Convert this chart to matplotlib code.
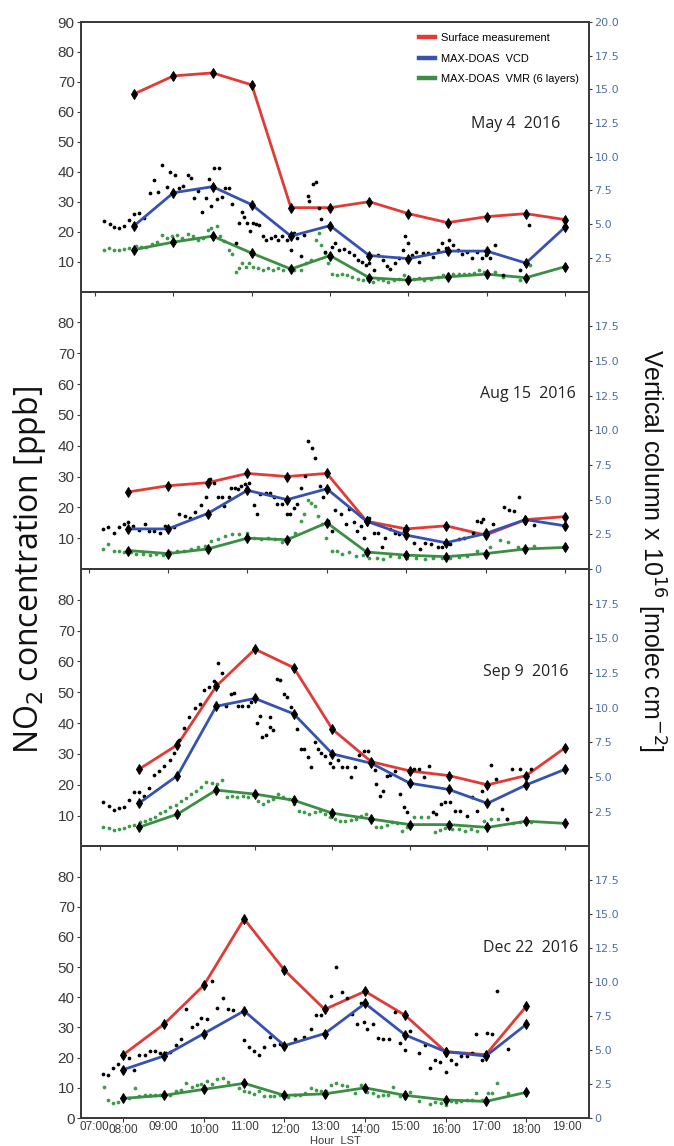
import matplotlib
matplotlib.use("Agg")
import matplotlib.pyplot as plt
from matplotlib.lines import Line2D
from matplotlib.ticker import FixedLocator, FixedFormatter
from matplotlib.transforms import ScaledTranslation

RED = "#e23a35"
BLUE = "#3552b0"
GREEN = "#3b8f44"
GREEN_DOT = "#3f9a4b"
RIGHT_TICK = "#4f6f9f"
SPINE = "#3a3a3a"

NARROW = ["Liberation Sans Narrow", "Liberation Sans", "DejaVu Sans"]

# ---------------- hourly means ----------------
HOURS_LONG = [8, 9, 10, 11, 12, 13, 14, 15, 16, 17, 18, 19]
HOURS_SHORT = [8, 9, 10, 11, 12, 13, 14, 15, 16, 17, 18]

# May 4 2016
MAY_SURFACE = [66, 72, 73, 69, 28, 28, 30, 26, 23, 25, 26, 24]
MAY_VCD = [4.89, 7.33, 7.78, 6.44, 4.11, 4.89, 2.67, 2.44, 3.0, 3.0, 2.11, 4.78]
MAY_VMR = [14, 16.5, 18.5, 12.8, 7.5, 12, 4.6, 3.8, 4.9, 5.8, 4.6, 8.3]

# Aug 15 2016
AUG_SURFACE = [25, 27, 28, 31, 30, 31, 15.5, 13, 14, 11, 16, 17]
AUG_VCD = [2.89, 2.89, 4.0, 5.67, 5.0, 5.78, 3.44, 2.44, 1.89, 2.56, 3.56, 3.11]
AUG_VMR = [6, 5, 6.5, 10, 9.5, 15, 5.5, 4.5, 4, 5, 6.5, 7]

# Sep 9 2016
SEP_SURFACE = [25, 33, 52, 64, 58, 38, 27.5, 24.5, 23, 20, 23, 32]
SEP_VCD = [3.11, 5.11, 10.11, 10.67, 9.56, 6.67, 6.0, 4.56, 4.11, 3.11, 4.44, 5.56]
SEP_VMR = [6.2, 10.5, 18.3, 17, 15, 10.8, 8.9, 7.1, 7.1, 6.2, 8.2, 7.5]

# Dec 22 2016
DEC_SURFACE = [21, 31, 44, 66, 49, 36, 42, 34, 22, 21, 37]
DEC_VCD = [3.56, 4.56, 6.22, 7.89, 5.33, 6.22, 8.44, 6.11, 4.89, 4.56, 6.89]
DEC_VMR = [6.5, 7.5, 9.5, 11.5, 7.5, 8, 10, 7.5, 6, 5.5, 8.5]

# ---------------- individual MAX-DOAS scans ----------------
MAY_SCAN_HOUR = [7.23, 7.37, 7.49, 7.61, 7.74, 7.87, 8.00, 8.13, 8.26, 8.41, 8.50, 8.60, 8.70, 8.83,
                 8.92, 9.05, 9.14, 9.24, 9.36, 9.45, 9.53, 9.62, 9.73, 9.84, 9.90, 9.97, 10.04, 10.10,
                 10.16, 10.23, 10.32, 10.41, 10.50, 10.60, 10.67, 10.74, 10.80, 10.89, 10.96, 11.02,
                 11.11, 11.18, 11.29, 11.37, 11.48, 11.59, 11.68, 11.77, 11.90, 11.99, 12.00, 12.08,
                 12.16, 12.25, 12.34, 12.43, 12.47, 12.56, 12.65, 12.71, 12.78, 12.86, 13.04, 13.13,
                 13.23, 13.35, 13.48, 13.61, 13.70, 13.81, 13.92, 14.00, 14.11, 14.22, 14.35, 14.46,
                 14.54, 14.66, 14.75, 14.85, 14.92, 14.98, 15.10, 15.19, 15.27, 15.36, 15.49, 15.62,
                 15.76, 15.86, 15.95, 16.04, 16.15, 16.26, 16.37, 16.50, 16.63, 16.76, 16.88, 16.98,
                 17.07, 17.20, 17.42, 17.84, 18.08]
MAY_SCAN_VCD = [5.22, 5.02, 4.78, 4.71, 4.84, 5.31, 5.73, 5.80, 5.49, 7.29, 8.31, 7.42, 9.38, 7.73,
                8.87, 8.67, 7.69, 7.82, 8.62, 8.44, 6.91, 7.44, 5.93, 6.93, 8.38, 6.31, 9.18, 6.87,
                9.13, 6.98, 7.69, 7.69, 6.49, 3.60, 5.11, 5.87, 5.53, 5.11, 4.47, 5.11,
                4.98, 4.91, 4.09, 3.84, 3.98, 4.09, 3.84, 4.09, 3.84, 4.09, 3.09, 4.36,
                3.98, 2.67, 4.22, 7.11, 6.69, 8.00, 8.11, 6.16, 5.36, 2.96, 3.27, 3.60,
                3.09, 3.18, 2.96, 2.71, 2.33, 2.16, 1.96, 2.13, 1.58, 2.71, 2.33, 1.91,
                1.67, 2.09, 2.47, 3.09, 4.09, 3.60, 2.71, 2.96, 2.22, 2.89, 2.84, 2.53,
                3.09, 3.60, 3.22, 3.84, 3.47, 3.09, 2.80, 2.96, 2.47, 2.96, 2.47, 2.71,
                2.47, 3.47, 1.20, 1.58, 4.91]

AUG_SCAN_HOUR = [7.37, 7.50, 7.63, 7.76, 7.89, 8.00, 8.12, 8.26, 8.41, 8.52, 8.64, 8.80, 8.93, 9.14,
                 9.27, 9.42, 9.56, 9.68, 9.84, 9.96, 10.07, 10.15, 10.25, 10.35, 10.42, 10.53, 10.59,
                 10.68, 10.77, 10.85, 10.94, 11.04, 11.17, 11.24, 11.32, 11.46, 11.58, 11.67, 11.74,
                 11.87, 12.00, 12.08, 12.17, 12.26, 12.36, 12.45, 12.53, 12.62, 12.71, 12.82, 12.90,
                 13.02, 13.12, 13.21, 13.36, 13.47, 13.57, 13.68, 13.77, 13.86, 13.94, 14.07, 14.18,
                 14.29, 14.38, 14.46, 14.59, 14.72, 14.81, 14.94, 15.20, 15.35, 15.46, 15.63, 15.79,
                 15.91, 16.11, 16.33, 16.46, 16.68, 16.77, 16.87, 16.94, 17.18, 17.46, 17.59, 17.72,
                 17.85, 18.22]
AUG_SCAN_VCD = [2.87, 3.00, 2.62, 3.00, 3.27, 3.36, 3.11, 2.80, 3.27, 2.76, 2.76, 2.62, 3.11, 3.00,
                3.96, 3.82, 3.71, 4.11, 4.60, 5.22, 6.51, 6.22, 5.22, 5.22, 4.56, 5.22, 5.87,
                5.87, 5.76, 5.98, 6.11, 6.22, 4.62, 4.00, 5.38, 5.51, 5.51, 5.16, 4.67,
                4.67, 3.96, 3.96, 4.42, 4.67, 5.82, 6.71, 9.22, 8.69, 8.02, 5.98, 5.16,
                3.47, 2.76, 4.27, 3.96, 3.27, 4.31, 3.36, 2.76, 3.11, 2.27, 3.71, 2.62,
                2.62, 1.56, 2.27, 2.87, 2.62, 2.51, 2.76, 1.91, 1.42, 1.91, 1.80, 1.56,
                1.56, 1.80, 2.16, 2.27, 2.62, 3.47, 3.36, 3.58, 3.22, 4.47, 4.24, 4.18,
                5.22, 3.16]

SEP_SCAN_HOUR = [7.09, 7.22, 7.35, 7.49, 7.62, 7.75, 7.88, 8.00, 8.13, 8.27, 8.39, 8.53, 8.66, 8.80,
                 8.90, 9.04, 9.17, 9.30, 9.44, 9.57, 9.68, 9.81, 9.94, 10.04, 10.14, 10.25, 10.39,
                 10.45, 10.57, 10.67, 10.81, 10.90, 11.05, 11.12, 11.19, 11.28, 11.38, 11.40, 11.47,
                 11.56, 11.65, 11.74, 11.83, 11.92, 12.09, 12.18, 12.27, 12.36, 12.45, 12.54, 12.62,
                 12.71, 12.80, 12.93, 13.02, 13.14, 13.24, 13.38, 13.49, 13.58, 13.69, 13.82, 13.91,
                 13.99, 14.09, 14.13, 14.22, 14.31, 14.41, 14.48, 14.62, 14.75, 14.84, 14.92, 15.00,
                 15.10, 15.24, 15.37, 15.50, 15.59, 15.68, 15.81, 15.90, 16.03, 16.17, 16.30, 16.48,
                 16.61, 16.74, 16.86, 17.10, 17.23, 17.37, 17.50, 17.63, 17.85, 18.12]
SEP_SCAN_VCD = [3.18, 2.93, 2.62, 2.78, 2.82, 3.36, 3.91, 3.91, 3.67, 4.22, 5.18, 5.47, 5.82, 6.24,
                6.71, 7.64, 8.56, 9.36, 10.0, 10.29, 11.29, 11.53, 11.96, 13.22, 12.49, 10.09, 11.0,
                11.04, 10.09, 10.09, 10.09, 10.4, 8.89, 9.44, 7.91, 8.0, 8.64, 9.31, 8.42,
                12.09, 12.0, 11.0, 10.76, 10.04, 8.47, 7.02, 7.02, 6.42, 5.76, 7.51, 7.02,
                6.71, 6.49, 6.0, 5.71, 6.2, 5.71, 5.71, 4.98, 5.71, 6.56, 6.91, 6.91,
                6.2, 5.51, 4.51, 3.67, 4.02, 5.11, 5.18, 5.47, 3.78, 2.82, 2.47, 5.51,
                5.6, 5.6, 4.98, 5.82, 2.47, 2.33, 3.07, 3.18, 3.18, 2.58, 2.58, 2.22,
                3.6, 2.58, 3.98, 5.89, 4.87, 2.71, 1.98, 5.6, 5.6, 5.6]

DEC_SCAN_HOUR = [7.49, 7.62, 7.74, 7.87, 8.13, 8.26, 8.40, 8.54, 8.66, 8.79, 8.91, 9.07, 9.17, 9.31,
                 9.42, 9.56, 9.70, 9.82, 9.94, 10.07, 10.20, 10.33, 10.47, 10.60, 10.73, 10.99, 11.11,
                 11.24, 11.37, 11.50, 11.63, 11.75, 11.88, 12.00, 12.27, 12.48, 12.65, 12.78, 12.91,
                 13.16, 13.29, 13.42, 13.55, 13.67, 13.80, 13.89, 13.97, 14.06, 14.19, 14.31, 14.44,
                 14.60, 14.74, 14.87, 15.00, 15.11, 15.34, 15.48, 15.62, 15.74, 15.85, 16.00, 16.13,
                 16.25, 16.39, 16.53, 16.66, 16.76, 16.90, 17.03, 17.16, 17.27, 17.55]
DEC_SCAN_VCD = [3.27, 3.18, 3.67, 3.98, 4.40, 3.56, 4.67, 4.64, 4.96, 4.96, 4.76, 4.76, 4.89, 5.36,
                5.80, 8.02, 6.73, 6.93, 7.40, 7.29, 10.07, 8.07, 8.87, 8.02, 7.93, 5.78, 5.20,
                4.96, 4.64, 5.24, 5.96, 5.36, 5.42, 5.24, 5.84, 5.96, 6.56, 7.60, 7.60,
                8.98, 11.11, 9.29, 8.87, 7.64, 6.89, 8.49, 7.04, 6.56, 6.93, 5.91, 5.80,
                5.80, 7.78, 5.53, 5.04, 6.44, 4.76, 5.36, 3.67, 4.27, 4.16, 3.36, 4.27,
                3.98, 4.56, 4.56, 4.76, 6.16, 4.27, 6.24, 6.16, 9.33, 5.11]

# ---------------- individual VMR retrievals (ppb) ----------------
MAY_VMR_HOUR = [7.23, 7.36, 7.47, 7.60, 7.74, 7.87, 8.04, 8.18, 8.31, 8.44, 8.57, 8.70, 8.83, 8.96,
                9.10, 9.23, 9.36, 9.49, 9.62, 9.75, 9.87, 9.97, 10.10, 10.19, 10.30, 10.41, 10.50,
                10.60, 10.67, 10.76, 10.85, 10.94, 11.02, 11.16, 11.29, 11.42, 11.55, 11.68, 11.81,
                11.94, 12.08, 12.25, 12.38, 12.51, 12.64, 12.71, 12.78, 12.86, 12.95, 13.04, 13.17,
                13.30, 13.43, 13.57, 13.70, 13.83, 13.96, 14.09, 14.22, 14.35, 14.49, 14.62, 14.75,
                14.88, 15.01, 15.14, 15.27, 15.41, 15.58, 15.76, 15.89, 16.02, 16.15, 16.28, 16.41,
                16.55, 16.68, 16.81, 16.94, 17.20, 17.42, 17.86, 18.10]
MAY_VMR_PPB = [13.7, 14.5, 13.7, 13.9, 14.1, 14.5, 15.3, 14.8, 15.0, 16.0, 16.5, 19.0, 17.9, 18.4,
               19.0, 17.9, 19.2, 18.4, 17.1, 17.9, 20.7, 21.3, 21.8, 18.4, 16.7, 13.9, 12.6,
               6.6, 7.7, 9.4, 8.3, 9.4, 8.3, 7.7, 7.1, 7.7, 7.1, 7.7, 7.1,
               7.7, 7.1, 7.1, 9.4, 10.5, 17.3, 19.6, 15.6, 12.8, 9.4, 5.8, 5.4,
               5.8, 5.4, 4.9, 4.3, 4.0, 3.7, 3.2, 4.3, 3.7, 3.2, 3.7, 4.3,
               5.4, 4.9, 4.3, 4.6, 4.0, 4.3, 4.9, 5.4, 5.8, 6.0, 6.0, 5.8,
               6.0, 6.2, 7.1, 6.6, 6.6, 4.9, 4.0, 8.8]

AUG_VMR_HOUR = [7.37, 7.50, 7.63, 7.76, 7.89, 8.06, 8.19, 8.36, 8.54, 8.71, 8.88, 9.06, 9.23, 9.40,
                9.57, 9.75, 9.92, 10.09, 10.27, 10.44, 10.61, 10.79, 11.00, 11.17, 11.35, 11.52,
                11.69, 11.87, 12.04, 12.21, 12.34, 12.43, 12.52, 12.60, 12.69, 12.78, 12.88, 12.99,
                13.12, 13.25, 13.38, 13.55, 13.73, 13.90, 14.07, 14.25, 14.42, 14.59, 14.81, 15.02,
                15.24, 15.46, 15.67, 15.89, 16.11, 16.33, 16.54, 16.77, 17.12, 17.37, 17.55, 17.81,
                18.22]
AUG_VMR_PPB = [6.4, 8.1, 5.9, 5.9, 5.4, 5.4, 4.8, 4.8, 4.6, 4.8, 4.6, 5.4, 5.9, 5.9,
               6.4, 7.0, 7.5, 9.1, 9.7, 10.8, 11.3, 11.3, 11.8, 10.2, 9.7, 10.2,
               9.7, 8.9, 10.2, 11.8, 15.6, 17.8, 22.3, 21.5, 20.5, 17.2, 14.5, 10.2,
               5.9, 5.9, 4.8, 5.4, 4.3, 4.6, 3.7, 3.7, 3.2, 4.3, 4.0, 3.7,
               3.5, 3.2, 3.7, 3.5, 3.5, 4.0, 4.3, 5.9, 7.0, 9.4, 8.6, 7.0,
               7.5]

SEP_VMR_HOUR = [7.09, 7.22, 7.35, 7.49, 7.62, 7.75, 7.88, 8.02, 8.15, 8.28, 8.42, 8.55, 8.68, 8.81,
                8.95, 9.08, 9.21, 9.35, 9.48, 9.61, 9.74, 9.88, 10.01, 10.14, 10.28, 10.41, 10.54,
                10.68, 10.81, 10.94, 11.07, 11.21, 11.34, 11.47, 11.60, 11.73, 11.87, 12.00, 12.14,
                12.27, 12.40, 12.54, 12.67, 12.80, 12.93, 13.07, 13.20, 13.33, 13.47, 13.60, 13.73,
                13.86, 13.99, 14.13, 14.26, 14.40, 14.53, 14.66, 14.80, 14.93, 15.10, 15.28, 15.46,
                15.64, 15.77, 15.90, 16.08, 16.26, 16.43, 16.57, 16.74, 16.92, 17.10, 17.28, 17.50,
                17.67, 17.85, 18.12]
SEP_VMR_PPB = [6.4, 6.0, 5.5, 5.7, 6.0, 6.8, 7.1, 7.8, 8.4, 8.9, 9.7, 10.8, 11.6, 12.7,
               13.6, 14.7, 15.7, 17.0, 18.1, 19.4, 20.8, 20.5, 20.3, 21.6, 16.0, 16.5, 16.0,
               16.5, 16.2, 16.7, 14.9, 13.8, 14.7, 15.4, 17.0, 16.0, 15.4, 13.8, 11.6,
               11.1, 10.5, 11.1, 11.6, 10.5, 9.7, 8.9, 8.4, 8.2, 8.6, 8.9, 10.0,
               10.5, 8.9, 6.2, 6.2, 7.1, 7.8, 7.5, 5.1, 6.4, 9.5, 9.5, 9.5,
               4.6, 5.3, 6.0, 5.7, 5.7, 5.1, 5.7, 5.1, 8.4, 8.9, 8.9, 8.9,
               7.5, 7.8, 7.8]

DEC_VMR_HOUR = [7.51, 7.62, 7.74, 7.87, 8.13, 8.28, 8.40, 8.54, 8.66, 8.79, 8.91, 9.17, 9.31, 9.42,
                9.56, 9.70, 9.82, 9.94, 10.07, 10.20, 10.33, 10.47, 10.60, 10.86, 10.99, 11.11,
                11.24, 11.37, 11.50, 11.63, 11.75, 11.88, 12.10, 12.27, 12.39, 12.52, 12.65, 12.78,
                12.91, 13.03, 13.16, 13.29, 13.42, 13.55, 13.76, 13.89, 14.06, 14.19, 14.31, 14.44,
                14.57, 14.70, 14.87, 15.00, 15.11, 15.34, 15.62, 15.74, 15.88, 16.00, 16.13, 16.25,
                16.39, 16.53, 16.66, 16.76, 16.90, 17.05, 17.16, 17.27, 17.55]
DEC_VMR_PPB = [10.2, 6.0, 4.9, 5.2, 6.6, 10.0, 7.2, 7.5, 7.5, 7.7, 7.7, 7.7, 8.9, 9.4,
               11.7, 10.2, 11.1, 11.4, 12.3, 11.4, 12.8, 13.4, 12.0, 9.8, 9.1, 8.6,
               8.0, 8.9, 7.2, 7.2, 7.2, 7.5, 6.9, 7.5, 7.7, 8.3, 9.8, 9.4,
               8.9, 9.1, 11.1, 11.7, 11.1, 10.6, 8.3, 10.9, 8.6, 8.3, 7.2, 7.5,
               7.5, 10.2, 7.2, 6.6, 8.6, 5.7, 4.5, 5.2, 4.9, 4.3, 5.5, 5.2,
               5.7, 6.0, 6.0, 8.3, 6.0, 8.3, 8.3, 11.7, 8.3]

DATES = ["May 4  2016", "Aug 15  2016", "Sep 9  2016", "Dec 22  2016"]
LEGEND_LABELS = ["Surface measurement", "MAX-DOAS  VCD", "MAX-DOAS  VMR (6 layers)"]

panels = [
    dict(hours=HOURS_LONG, surface=MAY_SURFACE, vcd=MAY_VCD, vmr=MAY_VMR,
         sh=MAY_SCAN_HOUR, sv=MAY_SCAN_VCD, vh=MAY_VMR_HOUR, vv=MAY_VMR_PPB),
    dict(hours=HOURS_LONG, surface=AUG_SURFACE, vcd=AUG_VCD, vmr=AUG_VMR,
         sh=AUG_SCAN_HOUR, sv=AUG_SCAN_VCD, vh=AUG_VMR_HOUR, vv=AUG_VMR_PPB),
    dict(hours=HOURS_LONG, surface=SEP_SURFACE, vcd=SEP_VCD, vmr=SEP_VMR,
         sh=SEP_SCAN_HOUR, sv=SEP_SCAN_VCD, vh=SEP_VMR_HOUR, vv=SEP_VMR_PPB),
    dict(hours=HOURS_SHORT, surface=DEC_SURFACE, vcd=DEC_VCD, vmr=DEC_VMR,
         sh=DEC_SCAN_HOUR, sv=DEC_SCAN_VCD, vh=DEC_VMR_HOUR, vv=DEC_VMR_PPB),
]

x_limits = [(6.64, 19.61), (6.81, 19.60), (6.51, 19.62), (6.95, 19.56)]
left_ticks = [range(10, 91, 10), range(10, 81, 10), range(10, 81, 10), range(0, 81, 10)]
right_ticks = [[2.5, 5, 7.5, 10, 12.5, 15, 17.5, 20],
               [0, 2.5, 5, 7.5, 10, 12.5, 15, 17.5],
               [2.5, 5, 7.5, 10, 12.5, 15, 17.5],
               [0, 2.5, 5, 7.5, 10, 12.5, 15, 17.5]]
date_pos = [(0.855, 0.62), (0.88, 0.63), (0.875, 0.63), (0.885, 0.625)]

fig = plt.figure(figsize=(6.74, 11.46), dpi=100)
gs = fig.add_gridspec(4, 1, left=81 / 674, right=589 / 674, top=1 - 22 / 1146,
                      bottom=1 - 1118 / 1146, hspace=0, height_ratios=[270, 278, 278, 272])

marker_kw = dict(marker="d", ms=4.6, mfc="black", mec="black", mew=0.7)

for i, p in enumerate(panels):
    ax = fig.add_subplot(gs[i])
    ax.set_facecolor("none")
    ax2 = ax.twinx()

    ax.set_xlim(*x_limits[i])
    ax.set_ylim(0, 90)
    ax2.set_ylim(0, 20)

    # individual retrievals
    ax.plot(p["vh"], p["vv"], "o", ms=2.7, color=GREEN_DOT, mec="none", zorder=2)
    ax2.plot(p["sh"], p["sv"], "o", ms=2.7, color="black", mec="none", zorder=2)

    # hourly means
    ax.plot(p["hours"], p["surface"], color=RED, lw=2.0, zorder=4, **marker_kw)
    ax.plot(p["hours"], p["vmr"], color=GREEN, lw=2.0, zorder=4, **marker_kw)
    ax2.plot(p["hours"], p["vcd"], color=BLUE, lw=2.0, zorder=4, **marker_kw)

    # left axis
    ax.yaxis.set_major_locator(FixedLocator(list(left_ticks[i])))
    ax.tick_params(axis="y", direction="out", length=3, width=0.8, labelsize=11,
                   colors=SPINE, pad=1.5)
    for lab in ax.get_yticklabels():
        lab.set_family(NARROW)

    # right axis
    rt = right_ticks[i]
    ax2.yaxis.set_major_locator(FixedLocator(rt))
    ax2.yaxis.set_major_formatter(FixedFormatter(["0" if v == 0 else f"{v:.1f}" for v in rt]))
    ax2.tick_params(axis="y", direction="out", length=2.5, width=0.8, labelsize=8,
                    colors=SPINE, labelcolor=RIGHT_TICK, pad=1.5)

    for a in (ax, ax2):
        for s in a.spines.values():
            s.set_color(SPINE)
            s.set_linewidth(1.3)

    # x axis
    if i < 3:
        ax.set_xticks([7, 9, 11, 13, 15, 17, 19])
        ax.tick_params(axis="x", direction="out", length=3, width=0.8, colors=SPINE,
                       labelbottom=False)
    else:
        major_h = [8, 10, 12, 14, 16, 18]
        minor_h = [7, 9, 11, 13, 15, 17, 19]
        ax.xaxis.set_major_locator(FixedLocator(major_h))
        ax.xaxis.set_minor_locator(FixedLocator(minor_h))
        ax.xaxis.set_major_formatter(FixedFormatter([f"{h:02d}:00" for h in major_h]))
        ax.xaxis.set_minor_formatter(FixedFormatter([f"{h:02d}:00" for h in minor_h]))
        ax.tick_params(axis="x", which="major", direction="out", length=3, width=0.8,
                       colors=SPINE, labelsize=8.5, pad=1.5)
        ax.tick_params(axis="x", which="minor", length=0, labelsize=8.5, colors=SPINE, pad=2.5)
        for lab in ax.get_xticklabels(which="both"):
            lab.set_family(["Liberation Sans", "DejaVu Sans"])
        # nudge the first hour label clear of the y-axis labels
        first = ax.xaxis.get_minor_ticks()[0].label1
        first.set_transform(first.get_transform() + ScaledTranslation(8 / 72, 0, fig.dpi_scale_trans))
        ax.set_xlabel("Hour  LST", fontsize=8, labelpad=0, color=SPINE,
                      family=["Liberation Sans", "DejaVu Sans"])

    ax.text(*date_pos[i], DATES[i], transform=ax.transAxes, ha="center", va="center",
            fontsize=11.5, color="#222222", family=["Open Sans", "DejaVu Sans"])

    if i == 0:
        handles = [Line2D([0], [0], color=c, lw=3.2) for c in (RED, BLUE, GREEN)]
        leg = ax.legend(handles, LEGEND_LABELS, loc="upper right", bbox_to_anchor=(1.0, 0.995),
                        frameon=False, handlelength=1.4, handletextpad=0.6, labelspacing=0.95,
                        prop=dict(family=NARROW, size=7.9))
        leg.set_zorder(10)

fig.text(0.044, 0.503, "NO$_2$ concentration [ppb]", rotation=90, ha="center", va="center",
         fontsize=23, family=["Open Sans", "DejaVu Sans"], color="#111111")
fig.text(0.966, 0.52, "Vertical column x 10$^{16}$ [molec cm$^{-2}$]", rotation=270,
         ha="center", va="center", fontsize=18, family=["Liberation Sans", "DejaVu Sans"],
         color="#111111")

fig.savefig("out.png", dpi=100, facecolor="white")
